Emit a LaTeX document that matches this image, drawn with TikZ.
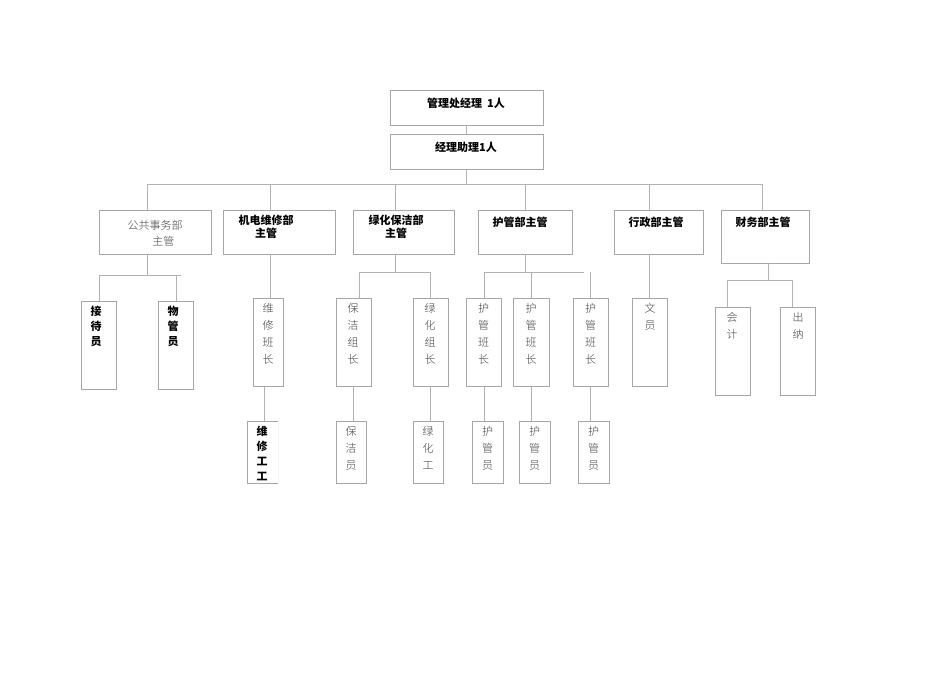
\documentclass[tikz,border=0pt]{standalone}
\usepackage{fontspec}
\newfontfamily\cjk{Noto Sans CJK SC}
\newfontfamily\cjkl{Noto Sans CJK SC Light}
\begin{document}
\begin{tikzpicture}[x=1pt,y=-1pt,
 bx/.style={draw=black!35,line width=0.7pt},
 ln/.style={draw=black!30,line width=0.7pt},
 bt/.style={font=\cjk\bfseries\fontsize{11}{13}\selectfont,align=center,inner sep=0},
 nt/.style={font=\cjkl\fontsize{11}{16}\selectfont,text=black!75,align=center,inner sep=0},
 vt/.style={font=\cjkl\fontsize{11}{17}\selectfont,text=black!75,align=center,inner sep=0,anchor=north},
 vb/.style={font=\cjk\bfseries\fontsize{11}{15}\selectfont,align=center,inner sep=0,anchor=north}]
\useasboundingbox (0,0) rectangle (950,672);
% boxes
\draw[bx] (390,90) rectangle (543,125); \node[bt] (t1) at (466,103) {管理处经理\ \ 1人};
\draw[bx] (390,134) rectangle (543,169); \node[bt] (t2) at (466,147) {经理助理1人};
\draw[ln] (466,125)--(466,134) (466,169)--(466,184) (147,184)--(762,184);
\foreach \x in {147,270,395,525,649,762} \draw[ln] (\x,184)--(\x,210);
\draw[bx] (99,210) rectangle (211,254); \node[nt] (a) at (155,233) {公共事务部\\\hspace{1.5em}主管};
\draw[bx] (223,210) rectangle (335,254); \node[bt,anchor=north] (b) at (266,215) {机电维修部\\主管};
\draw[bx] (353,210) rectangle (454,254); \node[bt,anchor=north] (c) at (396,215) {绿化保洁部\\主管};
\draw[bx] (478,210) rectangle (572,254); \node[bt] (d) at (520,222) {护管部主管};
\draw[bx] (614,210) rectangle (703,254); \node[bt] (e) at (656,222) {行政部主管};
\draw[bx] (721,210) rectangle (809,263); \node[bt] (f) at (763,222) {财务部主管};
% A
\draw[ln] (147,254)--(147,275) (99,275)--(181,275) (99,275)--(99,301) (176,275)--(176,301);
\draw[bx] (81,301) rectangle (116,389); \node[vb] (a1) at (96,306) {接\\待\\员};
\draw[bx] (158,301) rectangle (193,389); \node[vb] (a2) at (173,306) {物\\管\\员};
% B
\draw[ln] (270,254)--(270,298) (264,386)--(264,421);
\draw[bx] (253,298) rectangle (283,386); \node[vt] (b1) at (268,303) {维\\修\\班\\长};
\begin{scope}
\clip (247,421) rectangle (278,483);
\draw[bx] (247,421) rectangle (278,483); \node[vb] (b2) at (262,426) {维\\修\\工\\工};
\end{scope}
% C
\draw[ln] (395,254)--(395,272) (359,272)--(430,272) (359,272)--(359,298) (430,272)--(430,298);
\draw[bx] (336,298) rectangle (371,386); \node[vt] (c1) at (353,303) {保\\洁\\组\\长};
\draw[bx] (413,298) rectangle (448,386); \node[vt] (c2) at (430,303) {绿\\化\\组\\长};
\draw[ln] (353,386)--(353,421) (430,386)--(430,421);
\draw[bx] (336,421) rectangle (366,483); \node[vt] (c3) at (351,426) {保\\洁\\员};
\draw[bx] (413,421) rectangle (443,483); \node[vt] (c4) at (428,426) {绿\\化\\工};
% D
\draw[ln] (525,254)--(525,272) (484,272)--(584,272);
\foreach \x/\l/\r/\lb/\rb in {484/466/501/472/503,531/513/549/519/550,590/573/608/578/609}{
 \draw[ln] (\x,272)--(\x,298) (\x,386)--(\x,421);
 \draw[bx] (\l,298) rectangle (\r,386); \node[vt] at ({(\l+\r)/2},303) {护\\管\\班\\长};
 \draw[bx] (\lb,421) rectangle (\rb,483); \node[vt] at ({(\lb+\rb)/2},426) {护\\管\\员};
}
% E
\draw[ln] (649,254)--(649,298);
\draw[bx] (632,298) rectangle (667,386); \node[vt] (e1) at (650,303) {文\\员};
% F
\draw[ln] (768,263)--(768,280) (727,280)--(792,280) (727,280)--(727,307) (792,280)--(792,307);
\draw[bx] (715,307) rectangle (750,395); \node[vt] (f1) at (732,312) {会\\计};
\draw[bx] (780,307) rectangle (815,395); \node[vt] (f2) at (798,312) {出\\纳};
\end{tikzpicture}
\end{document}
